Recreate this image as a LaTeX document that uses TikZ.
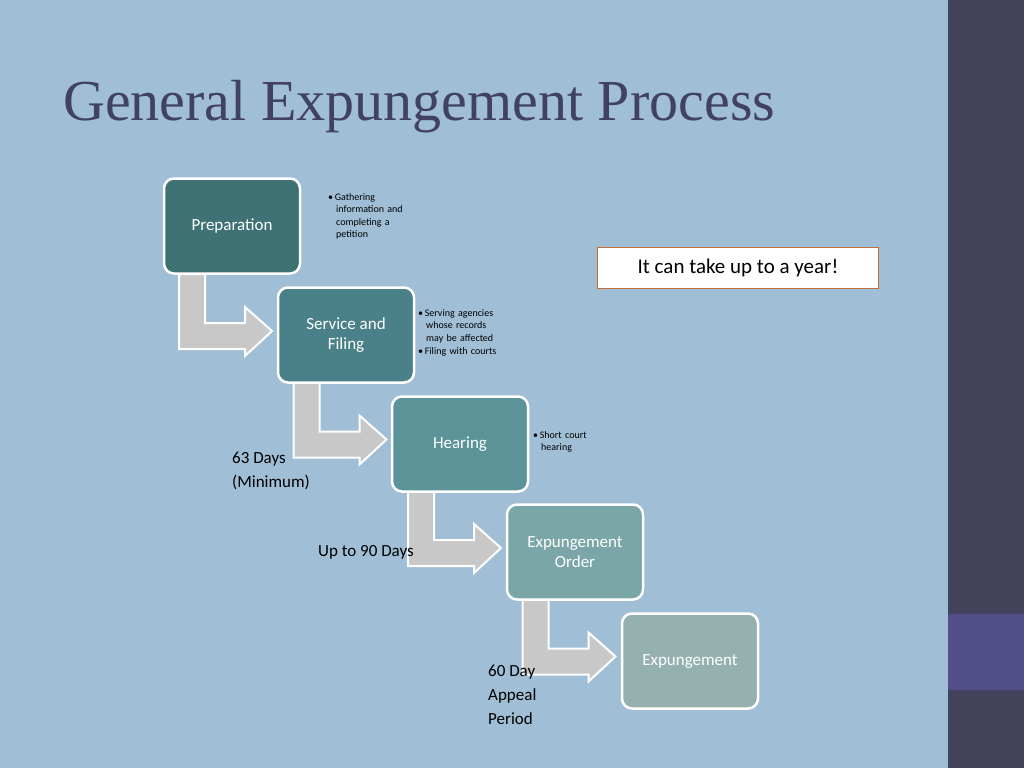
\documentclass[tikz,border=0pt]{standalone}
\usepackage{fontspec}
\setmainfont{Carlito}
\newfontfamily\titlefont{Liberation Serif}
\definecolor{bg}{HTML}{A0BED5}
\definecolor{bar}{HTML}{42435A}
\definecolor{barp}{HTML}{524E8A}
\definecolor{ttl}{HTML}{414262}
\definecolor{cA}{HTML}{3E7275}
\definecolor{cB}{HTML}{4A8088}
\definecolor{cC}{HTML}{5A9499}
\definecolor{cD}{HTML}{7AA6A8}
\definecolor{cE}{HTML}{94B1B0}
\definecolor{arr}{HTML}{C8C8C8}
\definecolor{org}{HTML}{C0703A}
\begin{document}
\begin{tikzpicture}[x=1pt,y=-1pt,
  stepbox/.style={draw=white,line width=2.5pt,rounded corners=10pt,minimum width=136pt,minimum height=95pt,text=white,font=\fontsize{17}{20}\selectfont,align=center,inner sep=0pt},
  bul/.style={anchor=north west,align=left,font=\fontsize{10}{12.5}\selectfont,text width=90pt,inner sep=0pt},
  lbl/.style={anchor=north west,align=left,font=\fontsize{17}{24}\selectfont,inner sep=0pt}]
\fill[bg] (0,0) rectangle (1024,768);
\fill[bar] (948,0) rectangle (1024,768);
\fill[barp] (948,614) rectangle (1024,690);
\node[anchor=base west,text=ttl,font=\titlefont\fontsize{58}{60}\selectfont,inner sep=0pt] (title) at (63,120) {General Expungement Process};
\foreach \i/\c in {0/cA,1/cB,2/cC,3/cD}{
  \begin{scope}[shift={(\i*114.5,\i*108.5)}]
  \draw[draw=white,line width=2pt,fill=arr] (179,274) -- (205,274) -- (205,323) -- (245,323) -- (245,307) -- (272,331) -- (245,356) -- (245,349) -- (179,349) -- cycle;
  \end{scope}}
\node[stepbox,fill=cA] (a) at (232,226) {Preparation};
\node[stepbox,fill=cB] (b) at (346,335) {Service and\\Filing};
\node[stepbox,fill=cC] (c) at (460,444) {Hearing};
\node[stepbox,fill=cD] (d) at (575,552) {Expungement\\Order};
\node[stepbox,fill=cE] (e) at (690,661) {Expungement};
\node[bul] (ba) at (328,193) {\textbullet\,Gathering\\\hspace*{8pt}information and\\\hspace*{8pt}completing a\\\hspace*{8pt}petition};
\node[bul,font=\fontsize{10}{12.5}\selectfont] (bb) at (418,309) {\textbullet\,Serving agencies\\\hspace*{8pt}whose records\\\hspace*{8pt}may be affected\\[1pt]\textbullet\,Filing with courts};
\node[bul] (bc) at (533,431) {\textbullet\,Short court\\\hspace*{8pt}hearing};
\node[lbl] (l1) at (232,452) {63 Days\\(Minimum)};
\node[lbl] (l2) at (318,545) {Up to 90 Days};
\node[lbl] (l3) at (488,665) {60 Day\\Appeal\\Period};
\node[draw=org,line width=1.5pt,fill=white,minimum width=281pt,minimum height=41pt,font=\fontsize{21}{24}\selectfont,inner sep=0pt] (yr) at (738,268) {It can take up to a year!};
\end{tikzpicture}
\end{document}
